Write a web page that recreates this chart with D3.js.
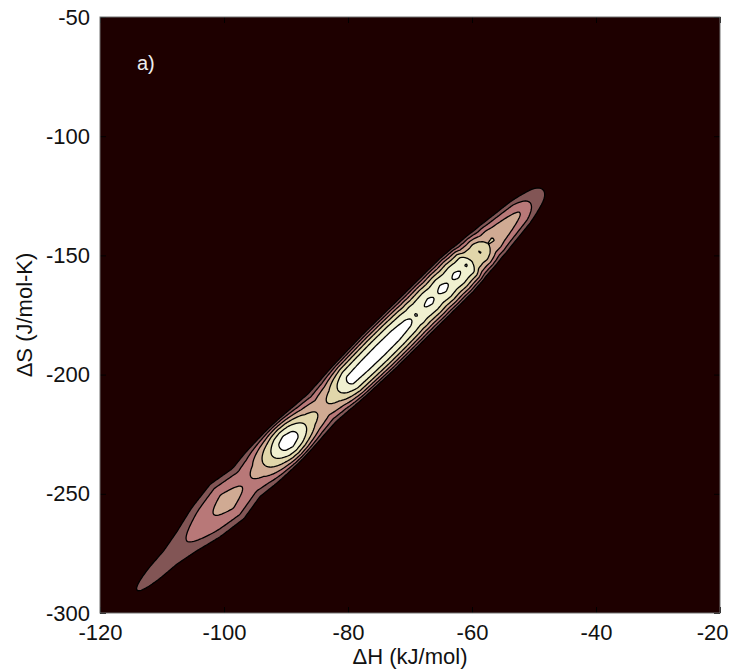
<!DOCTYPE html>
<html>
<head>
<meta charset="utf-8">
<script src="https://cdn.jsdelivr.net/npm/d3@7"></script>
<style>
body { margin: 0; background: #fff; }
text { font-family: "Liberation Sans", Arial, Helvetica, sans-serif; }
</style>
</head>
<body>
<div id="chart"></div>
<script>
var svgWidth = 729;
var svgHeight = 669;

var margin = {top: 17, right: 9, bottom: 56, left: 100};
var width = svgWidth - margin.left - margin.right;
var height = svgHeight - margin.top - margin.bottom;

// axis ticks
var xTicks = [-120, -100, -80, -60, -40, -20];
var yTicks = [-300, -250, -200, -150, -100, -50];

// contour levels (arbitrary density units)
var levels = [1, 2, 3, 4, 5, 6];

// ridge axis of the distribution, (dH, dS) at both ends
var ridgeStart = [-114.0, -290.4];
var ridgeEnd = [-48.6, -122.6];

// density along the ridge
var peakH = [-115.16, -114.03, -111.13, -105.97, -102.26, -99.52, -97.42, -96.13, -94.52, -93.23,
             -91.61, -90.65, -89.68, -88.55, -87.74, -86.13, -84.19, -82.26, -80.97, -79.68,
             -77.26, -74.84, -72.42, -70.32, -69.52, -69.03, -68.39, -66.77, -65.81, -64.68,
             -63.55, -62.58, -61.61, -60.81, -60.16, -59.35, -58.71, -58.06, -57.42, -56.61,
             -55.81, -52.26, -50.65, -48.55, -47.42];
var peakValue = [0.5, 1.0, 1.5, 2.0, 2.9, 3.35, 3.05, 2.85, 3.3, 4.2,
                 5.4, 6.2, 6.55, 6.2, 5.6, 4.4, 3.7, 4.4, 5.4, 6.25,
                 6.35, 6.38, 6.35, 6.15, 5.93, 6.03, 5.9, 6.12, 5.92, 6.18,
                 5.92, 6.12, 5.95, 6.03, 5.0, 4.85, 5.03, 4.6, 4.0, 4.03,
                 3.7, 3.0, 2.0, 1.0, 0.5];

// half width of the ridge across (kJ/mol, measured horizontally)
var spreadH = [-115, -108.7, -103, -99.5, -96.5, -94.5, -89.7, -84.2, -75, -62.5, -56.6, -52.3, -48.5];
var spreadValue = [2.7, 3.3, 5.8, 6.6, 5.6, 5.9, 5.7, 5.3, 5.9, 5.9, 5.0, 4.1, 3.2];

// matlab "pink" colormap
function pink(t) {
    var hot = [Math.min(1, t / 0.375),
               Math.max(0, Math.min(1, (t - 0.375) / 0.375)),
               Math.max(0, Math.min(1, (t - 0.75) / 0.25))];
    var c = hot.map(function(h) { return Math.round(255 * Math.sqrt((2 * t + h) / 3)); });
    return d3.rgb(c[0], c[1], c[2]).toString();
}

var svg = d3.select('#chart').append('svg')
    .attr('width', svgWidth)
    .attr('height', svgHeight);

var chartGroup = svg.append('g')
    .attr('transform', `translate(${margin.left}, ${margin.top})`);

var x = d3.scaleLinear().domain([-120, -20]).range([0, width]);
var y = d3.scaleLinear().domain([-300, -50]).range([height, 0]);

svg.append('defs').append('clipPath').attr('id', 'plotClip')
  .append('rect').attr('width', width).attr('height', height);

chartGroup.append('rect')
    .attr('width', width)
    .attr('height', height)
    .attr('fill', '#1e0000');

// build the density grid from the ridge profile
var nx = 400, ny = 500;
var dh = 100 / nx, ds = 250 / ny;
var ax = x(ridgeStart[0]), ay = y(ridgeStart[1]);
var bx = x(ridgeEnd[0]), by = y(ridgeEnd[1]);
var len = Math.hypot(bx - ax, by - ay);
var ux = (bx - ax) / len, uy = (by - ay) / len;
var pxPerH = x(1) - x(0);
var peakAt = d3.scaleLinear().domain(peakH).range(peakValue).clamp(true);
var spreadAt = d3.scaleLinear().domain(spreadH).range(spreadValue).clamp(true);

var values = new Float64Array(nx * ny);
for (var j = 0; j < ny; j++) {
    for (var i = 0; i < nx; i++) {
        var px = x(-120 + (i + 0.5) * dh);
        var py = y(-50 - (j + 0.5) * ds);
        var t = (px - ax) * ux + (py - ay) * uy;
        var d = -(px - ax) * uy + (py - ay) * ux;
        var hc = x.invert(ax + t * ux);
        var w = spreadAt(hc) * pxPerH * Math.abs(uy);
        var q = 1 - (d / w) * (d / w);
        values[j * nx + i] = q > 0 ? peakAt(hc) * q : 0;
    }
}

var contours = d3.contours().size([nx, ny]).thresholds(levels)(values);

var path = d3.geoPath(d3.geoTransform({
    point: function(gx, gy) {
        this.stream.point(x(-120 + gx * dh), y(-50 - gy * ds));
    }
}));

chartGroup.append('g')
    .attr('clip-path', 'url(#plotClip)')
  .selectAll('path')
    .data(contours)
    .enter()
    .append('path')
    .attr('d', path)
    .attr('fill', (c, k) => pink((k + 1) / levels.length))
    .attr('stroke', '#000')
    .attr('stroke-width', 1.3)
    .attr('stroke-linejoin', 'round');

// axes, ticks pointing inward; plain hyphen for the minus sign
var fmt = d => String(d);
var xAxis = chartGroup.append('g')
    .attr('transform', `translate(0, ${height})`)
    .call(d3.axisBottom(x).tickValues(xTicks).tickFormat(fmt).tickSizeInner(-6).tickSizeOuter(0).tickPadding(11));
chartGroup.append('g')
    .call(d3.axisLeft(y).tickValues(yTicks).tickFormat(fmt).tickSizeInner(-6).tickSizeOuter(0).tickPadding(10));
chartGroup.append('g')
    .call(d3.axisTop(x).tickValues(xTicks).tickSizeInner(-6).tickSizeOuter(0).tickFormat(''));
chartGroup.append('g')
    .attr('transform', `translate(${width}, 0)`)
    .call(d3.axisRight(y).tickValues(yTicks).tickSizeInner(-6).tickSizeOuter(0).tickFormat(''));

chartGroup.selectAll('.domain').remove();
chartGroup.selectAll('.tick line').attr('stroke', '#000');
chartGroup.selectAll('.tick text')
    .attr('font-size', 22)
    .attr('font-family', '"Liberation Sans", Arial, sans-serif')
    .attr('fill', '#111');

// last x label pulled in so it stays inside the page
xAxis.selectAll('.tick text')
    .filter(d => d === xTicks[xTicks.length - 1])
    .attr('text-anchor', 'end')
    .attr('x', 8);

chartGroup.append('rect')
    .attr('width', width)
    .attr('height', height)
    .attr('fill', 'none')
    .attr('stroke', '#707070')
    .attr('stroke-width', 1);

chartGroup.append('text')
    .attr('x', 37)
    .attr('y', 53)
    .attr('font-size', 20)
    .attr('fill', '#eeeeee')
    .text('a)');

chartGroup.append('text')
    .attr('transform', `translate(${width / 2}, ${height + 51})`)
    .attr('text-anchor', 'middle')
    .attr('font-size', 22)
    .attr('fill', '#111')
    .text('\u0394H (kJ/mol)');

chartGroup.append('text')
    .attr('transform', `translate(${32 - margin.left}, ${height / 2}) rotate(-90)`)
    .attr('text-anchor', 'middle')
    .attr('font-size', 22)
    .attr('fill', '#111')
    .text('\u0394S (J/mol-K)');
</script>
</body>
</html>
